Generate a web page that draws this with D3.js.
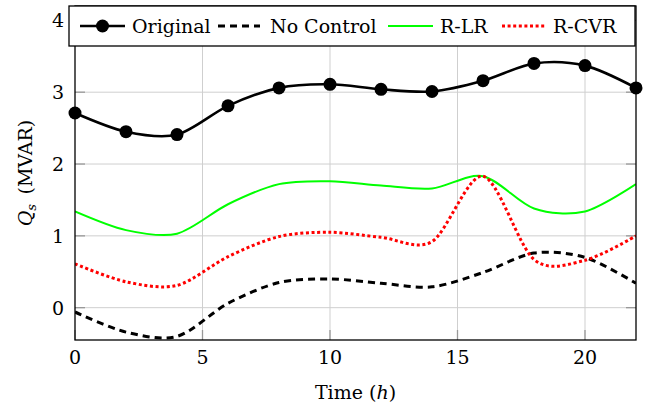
<!DOCTYPE html>
<html>
<head>
<meta charset="utf-8">
<script src="https://cdn.jsdelivr.net/npm/d3@7"></script>
<style>
  body { margin: 0; background: #fff; }
  svg text { font-family: "DejaVu Serif", serif; fill: #000; }
</style>
</head>
<body>
<div id="chart"></div>
<script>
// hours (every 2 h)
const hours = [0, 2, 4, 6, 8, 10, 12, 14, 16, 18, 20, 22];

// Q_s values (MVAR)
const original  = [2.71, 2.45, 2.41, 2.81, 3.06, 3.11, 3.04, 3.01, 3.16, 3.40, 3.37, 3.06];
const noControl = [-0.06, -0.34, -0.40, 0.06, 0.35, 0.40, 0.34, 0.29, 0.49, 0.76, 0.70, 0.34];
const rLR       = [1.34, 1.08, 1.03, 1.44, 1.72, 1.76, 1.70, 1.66, 1.83, 1.38, 1.34, 1.72];
const rCVR      = [0.61, 0.36, 0.31, 0.71, 0.99, 1.05, 0.98, 0.92, 1.83, 0.67, 0.66, 1.00];

const xTicks = [0, 5, 10, 15, 20];
const yTicks = [0, 1, 2, 3, 4];

const seriesNames = ["Original", "No Control", "R-LR", "R-CVR"];

let W = 646, H = 408;
let margin = { top: 6, right: 10, bottom: 68, left: 75 };
let width = W - margin.left - margin.right,
    height = H - margin.top - margin.bottom;

let svg = d3.select("#chart").append("svg")
  .attr("width", W)
  .attr("height", H);

let g = svg.append("g")
  .attr("transform", "translate(" + margin.left + "," + margin.top + ")");

let x = d3.scaleLinear().domain([0, 22]).range([0, width]);
let y = d3.scaleLinear().domain([-0.45, 4.2]).range([height, 0]);

// grid
g.append("g").selectAll("line").data(xTicks.slice(1)).join("line")
  .attr("x1", d => x(d)).attr("x2", d => x(d))
  .attr("y1", 0).attr("y2", height)
  .attr("stroke", "#cfcfcf").attr("stroke-width", 1);
g.append("g").selectAll("line").data(yTicks).join("line")
  .attr("x1", 0).attr("x2", width)
  .attr("y1", d => y(d)).attr("y2", d => y(d))
  .attr("stroke", "#cfcfcf").attr("stroke-width", 1);

// inward tick marks on all four sides
let tk = 10;
g.append("g").selectAll("line").data(xTicks).join("line")
  .attr("x1", d => x(d)).attr("x2", d => x(d))
  .attr("y1", height).attr("y2", height - tk)
  .attr("stroke", "#999").attr("stroke-width", 1.3);
g.append("g").selectAll("line").data(yTicks).join("line")
  .attr("x1", 0).attr("x2", tk)
  .attr("y1", d => y(d)).attr("y2", d => y(d))
  .attr("stroke", "#999").attr("stroke-width", 1.3);
g.append("g").selectAll("line").data(yTicks).join("line")
  .attr("x1", width).attr("x2", width - tk)
  .attr("y1", d => y(d)).attr("y2", d => y(d))
  .attr("stroke", "#999").attr("stroke-width", 1.3);

// tick labels
g.append("g").selectAll("text").data(xTicks).join("text")
  .attr("x", d => x(d)).attr("y", height + 24)
  .attr("text-anchor", "middle")
  .style("font-size", "19px")
  .text(d => d);
g.append("g").selectAll("text").data(yTicks).join("text")
  .attr("x", -11).attr("y", d => y(d) + 7)
  .attr("text-anchor", "end")
  .style("font-size", "19px")
  .text(d => d);

// axis titles
let xt = g.append("text")
  .attr("x", width / 2).attr("y", height + 59)
  .attr("text-anchor", "middle")
  .style("font-size", "19px");
xt.append("tspan").text("Time (");
xt.append("tspan").style("font-style", "italic").text("h");
xt.append("tspan").text(")");

let yt = g.append("text")
  .attr("transform", "translate(" + (-43) + "," + (height / 2) + ") rotate(-90)")
  .attr("text-anchor", "middle")
  .style("font-size", "19px");
yt.append("tspan").style("font-style", "italic").text("Q");
yt.append("tspan").style("font-style", "italic").style("font-size", "13px").attr("dy", 4).text("s");
yt.append("tspan").attr("dy", -4).text("\u2002(MVAR)");

// lines
let clip = svg.append("defs").append("clipPath").attr("id", "clip")
  .append("rect").attr("width", width).attr("height", height);

let line = d3.line()
  .curve(d3.curveCardinal.tension(0.1))
  .x((d, i) => x(hours[i]))
  .y(d => y(d));

let plot = g.append("g").attr("clip-path", "url(#clip)");

plot.append("path").datum(noControl)
  .attr("d", line).attr("fill", "none")
  .attr("stroke", "#000").attr("stroke-width", 3)
  .attr("stroke-dasharray", "7,5");

plot.append("path").datum(rLR)
  .attr("d", line).attr("fill", "none")
  .attr("stroke", "#00ff00").attr("stroke-width", 2);

plot.append("path").datum(rCVR)
  .attr("d", line).attr("fill", "none")
  .attr("stroke", "#ff0000").attr("stroke-width", 3)
  .attr("stroke-dasharray", "3,2.6");

plot.append("path").datum(original)
  .attr("d", line).attr("fill", "none")
  .attr("stroke", "#000").attr("stroke-width", 2.6);

g.append("g").selectAll("circle").data(original).join("circle")
  .attr("cx", (d, i) => x(hours[i])).attr("cy", d => y(d))
  .attr("r", 6.5).attr("fill", "#000");

// frame
g.append("rect").attr("width", width).attr("height", height)
  .attr("fill", "none").attr("stroke", "#000").attr("stroke-width", 1.3);

// legend
let lg = svg.append("g");
lg.append("rect")
  .attr("x", 69).attr("y", 6).attr("width", 566).attr("height", 40)
  .attr("fill", "#fff").attr("stroke", "#000").attr("stroke-width", 1.3);

let ly = 26;
let legendItems = [
  { name: seriesNames[0], x0: 80, x1: 125, tx: 132, stroke: "#000", sw: 2.6, dash: null, dot: true },
  { name: seriesNames[1], x0: 218, x1: 260, tx: 270, stroke: "#000", sw: 3, dash: "7,5", dot: false },
  { name: seriesNames[2], x0: 388, x1: 433, tx: 440, stroke: "#00ff00", sw: 2, dash: null, dot: false },
  { name: seriesNames[3], x0: 502, x1: 545, tx: 553, stroke: "#ff0000", sw: 3, dash: "3,2.6", dot: false }
];

legendItems.forEach(function (d) {
  lg.append("line")
    .attr("x1", d.x0).attr("x2", d.x1).attr("y1", ly).attr("y2", ly)
    .attr("stroke", d.stroke).attr("stroke-width", d.sw)
    .attr("stroke-dasharray", d.dash);
  if (d.dot) {
    lg.append("circle").attr("cx", (d.x0 + d.x1) / 2).attr("cy", ly)
      .attr("r", 6.5).attr("fill", "#000");
  }
  lg.append("text").attr("x", d.tx).attr("y", ly + 7)
    .style("font-size", "19px")
    .text(d.name);
});
</script>
</body>
</html>
